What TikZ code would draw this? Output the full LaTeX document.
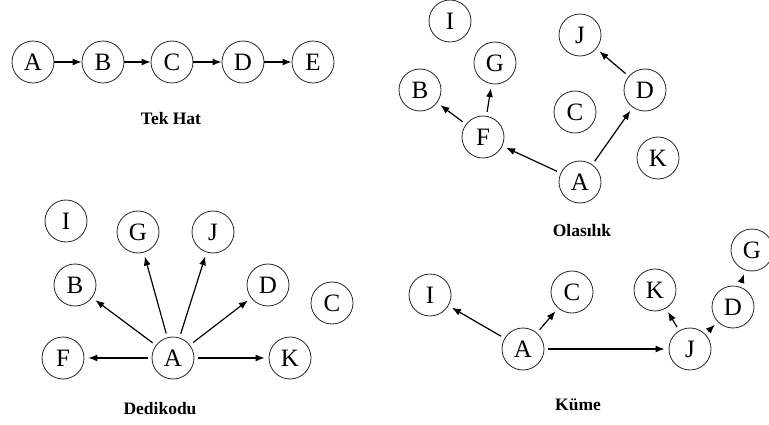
\documentclass[tikz,border=0pt]{standalone}
\usepackage{fontspec}
\setmainfont{Liberation Serif}
\usetikzlibrary{arrows.meta}
\begin{document}
\begin{tikzpicture}[x=1pt,y=-1pt,
  vtx/.style={circle,draw=black!85,line width=0.8pt,minimum size=42pt,inner sep=0pt,font=\fontsize{25}{25}\selectfont},
  lbl/.style={font=\fontsize{17.5}{18}\selectfont\bfseries},
  arr/.style={-{Latex[length=9pt,width=7pt]},line width=1.2pt,shorten <=4pt,shorten >=4pt},
  tarr/.style={-{Latex[length=9pt,width=7pt]},line width=1.2pt}]
\useasboundingbox (0,0) rectangle (769,425);
% Tek Hat
\node[vtx] (tA) at (33,62) {A};
\node[vtx] (tB) at (103,62) {B};
\node[vtx] (tC) at (172,62) {C};
\node[vtx] (tD) at (243,62) {D};
\node[vtx] (tE) at (313,62) {E};
\draw[tarr] (tA) -- (tB);
\draw[tarr] (tB) -- (tC);
\draw[tarr] (tC) -- (tD);
\draw[tarr] (tD) -- (tE);
\node[lbl] (tL) at (171,119) {Tek Hat};
% Olasilik
\node[vtx] (oI) at (450,21) {I};
\node[vtx] (oJ) at (580,35) {J};
\node[vtx] (oG) at (495,63) {G};
\node[vtx] (oB) at (420,90) {B};
\node[vtx] (oD) at (645,90) {D};
\node[vtx] (oC) at (575,112) {C};
\node[vtx] (oF) at (483,137) {F};
\node[vtx] (oK) at (658,158) {K};
\node[vtx] (oA) at (580,182) {A};
\draw[arr] (oA) -- (oF);
\draw[arr] (oA) -- (oD);
\draw[arr] (oF) -- (oB);
\draw[arr] (oF) -- (oG);
\draw[arr] (oD) -- (oJ);
\node[lbl] (oL) at (582,231) {Olasılık};
% Dedikodu
\node[vtx] (dI) at (66,221) {I};
\node[vtx] (dG) at (138,232) {G};
\node[vtx] (dJ) at (213,232) {J};
\node[vtx] (dB) at (75,285) {B};
\node[vtx] (dD) at (268,285) {D};
\node[vtx] (dC) at (332,303) {C};
\node[vtx] (dF) at (63,358) {F};
\node[vtx] (dA) at (173,358) {A};
\node[vtx] (dK) at (290,358) {K};
\draw[arr] (dA) -- (dF);
\draw[arr] (dA) -- (dB);
\draw[arr] (dA) -- (dG);
\draw[arr] (dA) -- (dJ);
\draw[arr] (dA) -- (dD);
\draw[arr] (dA) -- (dK);
\node[lbl] (dL) at (160,409) {Dedikodu};
% Kume
\node[vtx] (kI) at (430,295) {I};
\node[vtx] (kC) at (572,292) {C};
\node[vtx] (kK) at (655,290) {K};
\node[vtx] (kG) at (752,250) {G};
\node[vtx] (kD) at (733,307) {D};
\node[vtx] (kA) at (523,349) {A};
\node[vtx] (kJ) at (690,349) {J};
\draw[arr] (kA) -- (kI);
\draw[arr] (kA) -- (kC);
\draw[arr] (kA) -- (kJ);
\draw[arr] (kJ) -- (kK);
\draw[arr] (kJ) -- (kD);
\draw[arr] (kD) -- (kG);
\node[lbl] (kL) at (578,405) {Küme};
\end{tikzpicture}
\end{document}
